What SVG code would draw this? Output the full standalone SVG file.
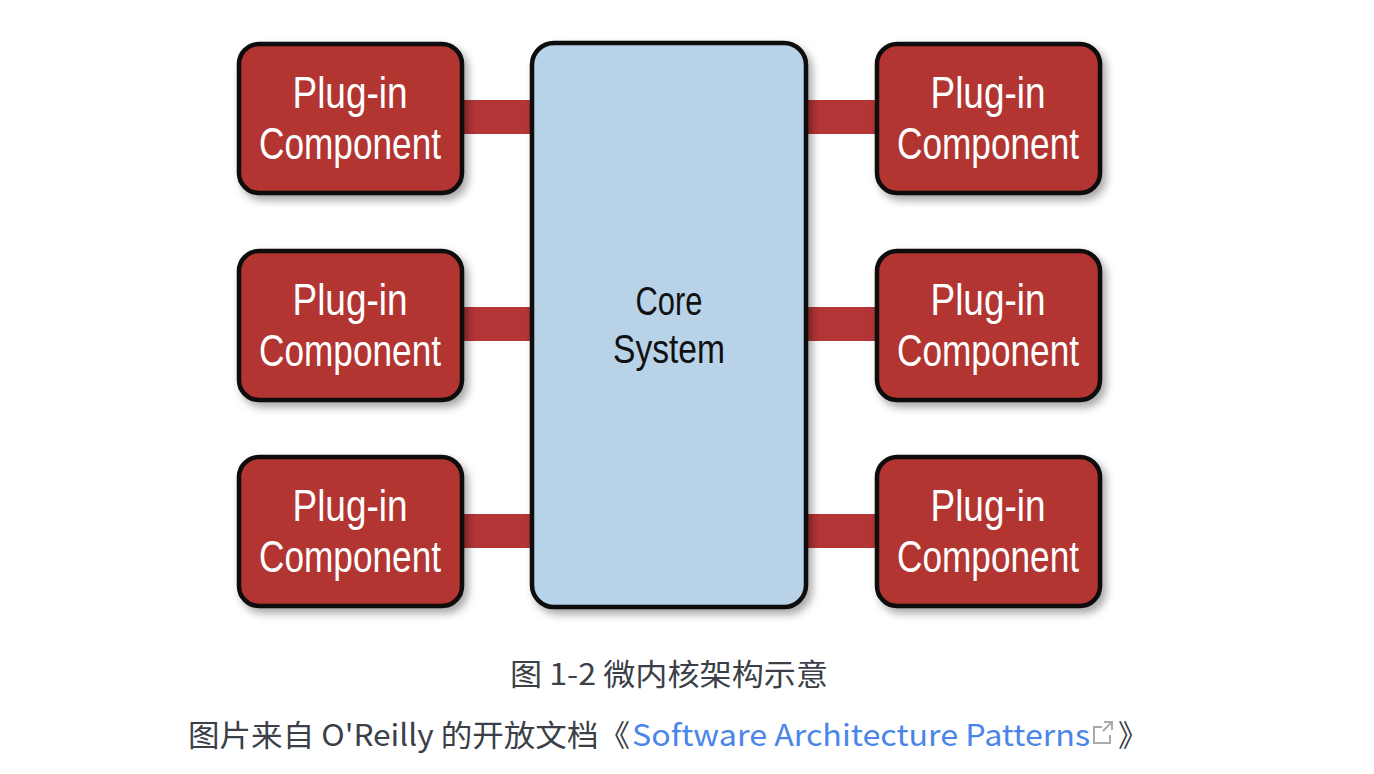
<svg xmlns="http://www.w3.org/2000/svg" width="1374" height="774" viewBox="0 0 1374 774">
<defs>
<filter id="sh" x="-20%" y="-20%" width="140%" height="140%">
<feDropShadow dx="4" dy="5" stdDeviation="4" flood-color="#000" flood-opacity="0.35"/>
</filter>
<style>
.plug{fill:#B23432;stroke:#0a0a0a;stroke-width:4.5}
.core{fill:#B8D2E8;stroke:#0a0a0a;stroke-width:4.5}
.bar{fill:#B43535}
.pt{font-family:"Liberation Sans",Arial,sans-serif;font-size:44px;fill:#fff;text-anchor:middle}
.ct{font-family:"Liberation Sans",Arial,sans-serif;font-size:41px;fill:#111;text-anchor:middle}
.cap{font-family:"Noto Sans CJK SC","Noto Sans",sans-serif;font-size:30px;fill:#3a3f48}
.lnk{fill:#4A86E8}
</style>
</defs>
<rect width="1374" height="774" fill="#fff"/>
<g id="connectors">
<rect class="bar" x="460" y="100" width="74" height="34"/>
<rect class="bar" x="460" y="307" width="74" height="34"/>
<rect class="bar" x="460" y="514" width="74" height="34"/>
<rect class="bar" x="804" y="100" width="75" height="34"/>
<rect class="bar" x="804" y="307" width="75" height="34"/>
<rect class="bar" x="804" y="514" width="75" height="34"/>
</g>
<g id="core">
<rect class="core" x="532" y="43" width="274" height="564" rx="22" filter="url(#sh)"/>
<text class="ct" x="669" y="315" textLength="67" lengthAdjust="spacingAndGlyphs">Core</text>
<text class="ct" x="669" y="363" textLength="112" lengthAdjust="spacingAndGlyphs">System</text>
</g>
<g id="plugin-l1">
<rect class="plug" x="239" y="44" width="223" height="149" rx="20" filter="url(#sh)"/>
<text class="pt" x="350" y="108" textLength="115" lengthAdjust="spacingAndGlyphs">Plug-in</text>
<text class="pt" x="350" y="159" textLength="182" lengthAdjust="spacingAndGlyphs">Component</text>
</g>
<g id="plugin-l2">
<rect class="plug" x="239" y="251" width="223" height="149" rx="20" filter="url(#sh)"/>
<text class="pt" x="350" y="315" textLength="115" lengthAdjust="spacingAndGlyphs">Plug-in</text>
<text class="pt" x="350" y="366" textLength="182" lengthAdjust="spacingAndGlyphs">Component</text>
</g>
<g id="plugin-l3">
<rect class="plug" x="239" y="457" width="223" height="149" rx="20" filter="url(#sh)"/>
<text class="pt" x="350" y="521" textLength="115" lengthAdjust="spacingAndGlyphs">Plug-in</text>
<text class="pt" x="350" y="572" textLength="182" lengthAdjust="spacingAndGlyphs">Component</text>
</g>
<g id="plugin-r1">
<rect class="plug" x="877" y="44" width="223" height="149" rx="20" filter="url(#sh)"/>
<text class="pt" x="988" y="108" textLength="115" lengthAdjust="spacingAndGlyphs">Plug-in</text>
<text class="pt" x="988" y="159" textLength="182" lengthAdjust="spacingAndGlyphs">Component</text>
</g>
<g id="plugin-r2">
<rect class="plug" x="877" y="251" width="223" height="149" rx="20" filter="url(#sh)"/>
<text class="pt" x="988" y="315" textLength="115" lengthAdjust="spacingAndGlyphs">Plug-in</text>
<text class="pt" x="988" y="366" textLength="182" lengthAdjust="spacingAndGlyphs">Component</text>
</g>
<g id="plugin-r3">
<rect class="plug" x="877" y="457" width="223" height="149" rx="20" filter="url(#sh)"/>
<text class="pt" x="988" y="521" textLength="115" lengthAdjust="spacingAndGlyphs">Plug-in</text>
<text class="pt" x="988" y="572" textLength="182" lengthAdjust="spacingAndGlyphs">Component</text>
</g>
<g id="caption">
<text class="cap" x="510" y="685" textLength="318" lengthAdjust="spacingAndGlyphs">图 1-2 微内核架构示意</text>
<text class="cap" x="188" y="746" textLength="442" lengthAdjust="spacingAndGlyphs">图片来自 O'Reilly 的开放文档《</text>
<text class="cap lnk" x="632" y="746" textLength="458" lengthAdjust="spacingAndGlyphs">Software Architecture Patterns</text>
<g fill="none" stroke="#aaa" stroke-width="2">
<path d="M1102 727 h-8 v16 h16 v-8"/>
<path d="M1104 722 h8 v8 M1112 722 l-9 9"/>
</g>
<text class="cap" x="1118" y="746">》</text>
</g>
</svg>
